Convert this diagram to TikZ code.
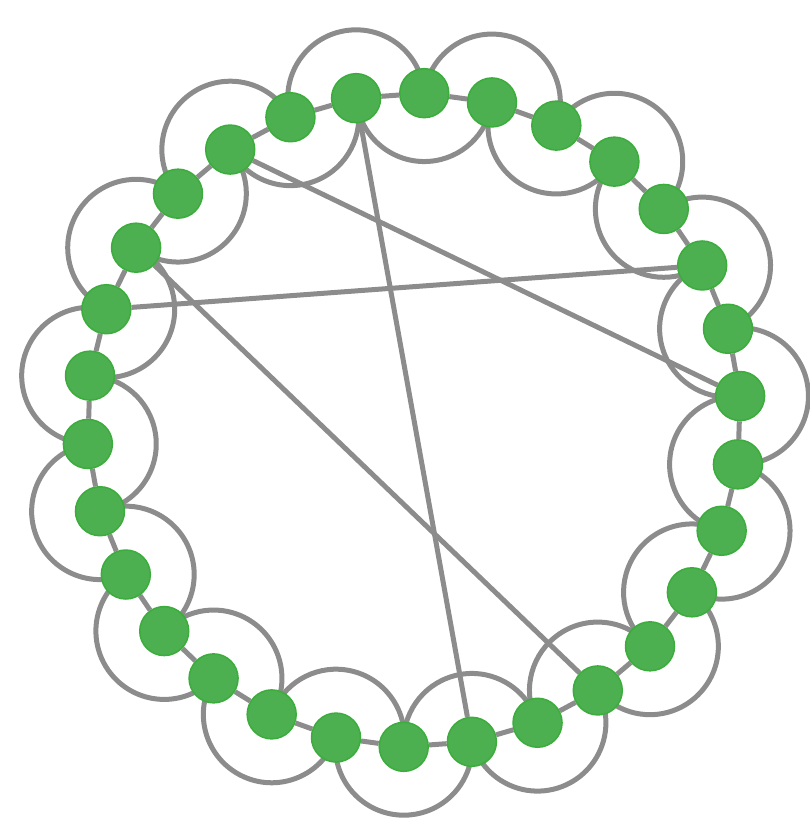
\documentclass[tikz,border=0pt]{standalone}
\usetikzlibrary{backgrounds}
\definecolor{beadg}{HTML}{4CAF50}
\definecolor{beadl}{HTML}{3CAD3C}
\definecolor{wireg}{HTML}{8C8C8C}
\tikzset{
  bead/.style={circle,fill=beadg,draw=beadl,line width=1.5pt,minimum size=49pt,inner sep=0pt},
  wire/.style={wireg,line width=5pt}
}
\begin{document}
\begin{tikzpicture}[x=1pt,y=1pt]
\useasboundingbox (-414,-407) rectangle (395,420);
% beads round the ring
\foreach \i in {1,...,30}
  \node[bead] (p\i) at ({100.2-12*(\i-1)}:327) {};
\begin{scope}[on background layer]
% neighbours
\foreach \i in {1,...,30} {
  \pgfmathtruncatemacro\k{mod(\i,30)+1}
  \draw[wire] (p\i) -- (p\k);
}
% loops outside
\foreach \j in {1,3,...,29} {
  \pgfmathsetmacro\a{100.2-12*(\j-1)}
  \pgfmathtruncatemacro\k{mod(\j+28,30)+1}
  \draw[wire] (p\k.center) arc[start angle=\a+96, end angle=\a-96, radius=68.36];
}
% loops inside
\foreach \j in {2,4,...,30} {
  \pgfmathsetmacro\a{100.2-12*(\j-1)}
  \pgfmathtruncatemacro\k{mod(\j+28,30)+1}
  \draw[wire] (p\k.center) arc[start angle=\a+96, end angle=\a+264, radius=68.36];
}
% chords
\draw[wire] (p1) -- (p16);
\draw[wire] (p29) -- (p9);
\draw[wire] (p27) -- (p14);
\draw[wire] (p26) -- (p7);
\end{scope}
\end{tikzpicture}
\end{document}
